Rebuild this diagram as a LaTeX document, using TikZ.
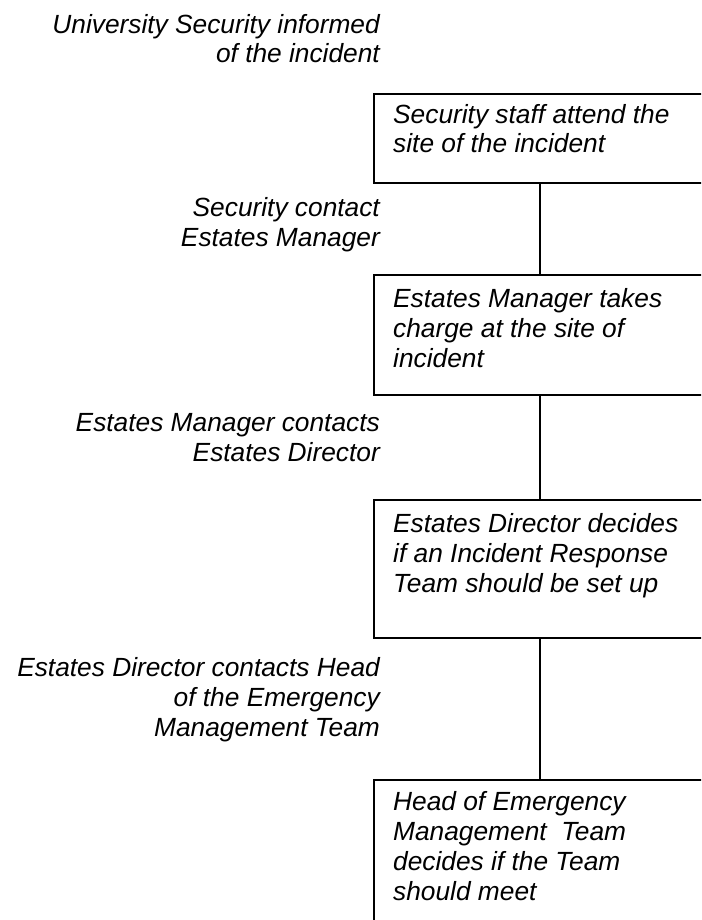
\documentclass[tikz,border=0pt]{standalone}
\usepackage{fontspec}
\setmainfont{Liberation Sans}
\begin{document}
\begin{tikzpicture}[x=1pt,y=-1pt,
  stagebox/.style={draw, line width=2pt, minimum width=400pt, inner sep=0pt, anchor=north west},
  lbl/.style={font=\fontsize{26.3}{29.7}\selectfont\itshape, align=right, anchor=base east, inner sep=0pt},
  boxtext/.style={font=\fontsize{26.3}{29.7}\selectfont\itshape, align=left, anchor=base west, inner sep=0pt},
  link/.style={line width=2pt}]
\useasboundingbox (0,0) rectangle (701,920);
\clip (0,0) rectangle (701,920);

% stages (boxes run off the right and bottom edges)
\node[stagebox, minimum height=89pt]  (s1) at (372.5,93)  {};
\node[stagebox, minimum height=120pt] (s2) at (372.5,274) {};
\node[stagebox, minimum height=138pt] (s3) at (372.5,499) {};
\node[stagebox, minimum height=200pt] (s4) at (372.5,779) {};

% stage texts, placed by the baseline of their last line
\node[boxtext] (t1) at (393,153) {Security staff attend the\\site of the incident};
\node[boxtext] (t2) at (393,367) {Estates Manager takes\\charge at the site of\\incident};
\node[boxtext] (t3) at (393,592) {Estates Director decides\\if an Incident Response\\Team should be set up};
\node[boxtext] (t4) at (393,900) {Head of Emergency\\Management\ \ Team\\decides if the Team\\should meet};

% actions between stages
\node[lbl] (a0) at (380,63)  {University Security informed\\of the incident};
\node[lbl] (a1) at (380,246) {Security contact\\Estates Manager};
\node[lbl] (a2) at (380,461) {Estates Manager contacts\\Estates Director};
\node[lbl] (a3) at (380,736) {Estates Director contacts\ Head\\of the Emergency\\Management Team};

% connectors
\draw[link] ([xshift=167.5pt]s1.south west) -- ([xshift=167.5pt]s2.north west);
\draw[link] ([xshift=167.5pt]s2.south west) -- ([xshift=167.5pt]s3.north west);
\draw[link] ([xshift=167.5pt]s3.south west) -- ([xshift=167.5pt]s4.north west);
\end{tikzpicture}
\end{document}
